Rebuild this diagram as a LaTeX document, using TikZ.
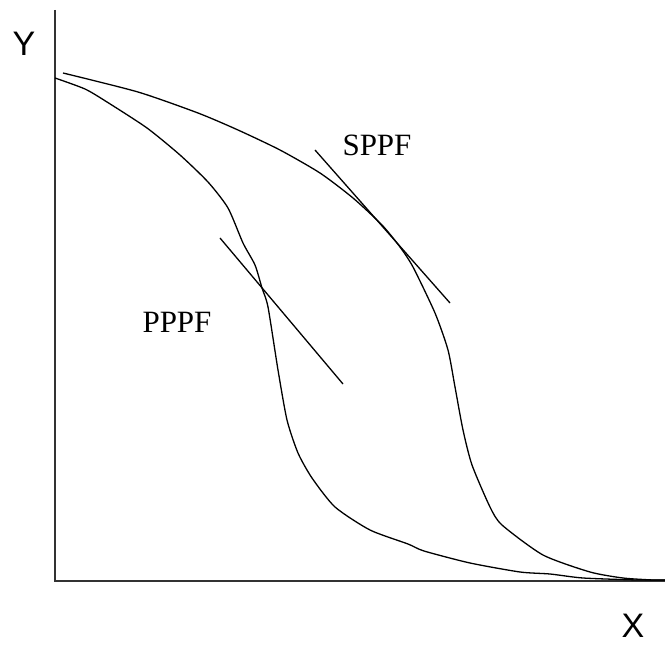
\documentclass[tikz,border=0pt]{standalone}
\usepackage{fontspec}
\setmainfont{Liberation Serif}
\newfontfamily\axisfont{Liberation Sans}
\begin{document}
\begin{tikzpicture}[x=1pt,y=-1pt]
    % Styles
    \tikzset{curve line/.style={line width=1.3pt},
             axis line/.style={line width=1.4pt, black!80},
             axis label/.style={font=\axisfont\fontsize{34}{40}\selectfont},
             curve label/.style={font=\fontsize{31}{37}\selectfont}}
    \useasboundingbox (0,0) rectangle (665,647);

    % --- Axes ---
    \coordinate (origin) at (55,581);
    \coordinate (ytop) at (55,10);
    \coordinate (xend) at (665,581);
    \draw[axis line] (ytop) -- (origin) -- (xend);
    \node[axis label] (ylab) at (24,44) {Y};
    \node[axis label] (xlab) at (633,626) {X};

    % --- SPPF (outer curve) ---
    \draw[curve line] plot[smooth, tension=0.4] coordinates {
        (63,73) (138,92) (198,113) (238,130) (280,150) (320,173) (353,198)
        (382,225) (400,247) (413,267) (435,313) (448,350) (455,387)
        (463,430) (472,465) (490,507) (502,525) (543,555) (590,572)
        (623,578) (653,580) (665,580)};

    % --- PPPF (inner curve) ---
    \draw[curve line] plot[smooth, tension=0.4] coordinates {
        (55,78) (85,89) (107,102) (147,128) (180,155) (208,182) (228,208)
        (243,243) (255,265) (262,288) (268,307) (278,370) (287,420)
        (298,453) (312,478) (335,507) (370,530) (408,544) (424,551)
        (470,563) (520,572) (550,574) (583,578) (637,580) (665,580)};

    % --- Tangent lines ---
    \coordinate (s1) at (315,150);
    \coordinate (s2) at (450,303);
    \coordinate (p1) at (220,238);
    \coordinate (p2) at (343,384);
    \draw[curve line] (s1) -- (s2);
    \draw[curve line] (p1) -- (p2);

    % --- Labels ---
    \node[curve label] (sppf) at (377,145) {SPPF};
    \node[curve label] (pppf) at (177,322) {PPPF};
\end{tikzpicture}
\end{document}
